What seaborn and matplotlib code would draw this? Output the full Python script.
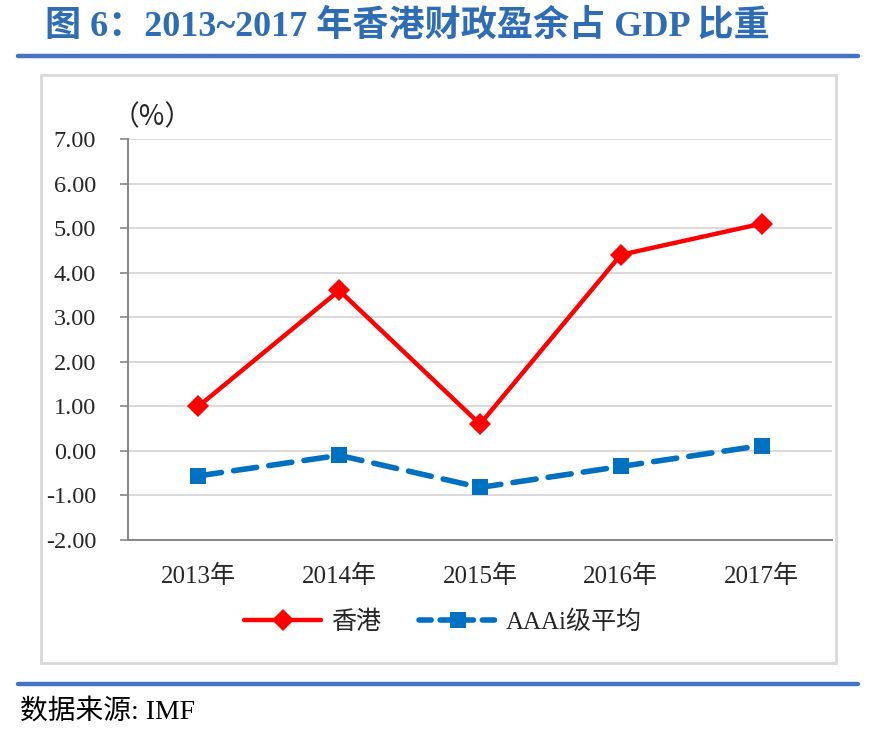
import matplotlib
matplotlib.use("Agg")
import matplotlib.pyplot as plt
import seaborn as sns
import pandas as pd
from matplotlib.patches import Rectangle
from matplotlib.lines import Line2D

years = ["2013年", "2014年", "2015年", "2016年", "2017年"]
hk = [1.0, 3.6, 0.6, 4.4, 5.1]
aaa = [-0.56, -0.1, -0.82, -0.35, 0.12]
series_names = ["香港", "AAAi级平均"]
yticks = [-2, -1, 0, 1, 2, 3, 4, 5, 6, 7]

sns.set_theme(style="white")
FONTS = ["Liberation Serif", "Noto Sans CJK SC", "DejaVu Sans"]
plt.rcParams["font.family"] = FONTS

W, H = 876, 733
fig = plt.figure(figsize=(W / 100, H / 100), dpi=100)

def fx(px):
    return px / W

def fy(py):
    return 1 - py / H

# outer chart box
fig.patches.append(Rectangle((fx(41), fy(663)), fx(836) - fx(41), fy(75) - fy(663),
                             transform=fig.transFigure, fill=False,
                             edgecolor="#D9D9D9", linewidth=2.0, zorder=0))
# blue rules
fig.add_artist(Line2D([fx(18), fx(858)], [fy(55.5), fy(55.5)], transform=fig.transFigure,
                      color="#4472C4", linewidth=3.2))
fig.add_artist(Line2D([fx(18), fx(858)], [fy(683.5), fy(683.5)], transform=fig.transFigure,
                      color="#4472C4", linewidth=3.2))

ax = fig.add_axes([fx(128), fy(540), fx(832) - fx(128), fy(139) - fy(540)])

df = pd.DataFrame({
    "x": list(range(len(years))) * 2,
    "val": hk + aaa,
    "series": [series_names[0]] * len(years) + [series_names[1]] * len(years),
})

sns.lineplot(data=df[df.series == series_names[0]], x="x", y="val", ax=ax,
             color="#FF0000", linewidth=3.2, marker="D", markersize=11,
             markeredgewidth=0, legend=False, zorder=4)
sns.lineplot(data=df[df.series == series_names[1]], x="x", y="val", ax=ax,
             color="#0070C0", linewidth=4.0, marker="s", markersize=11,
             markeredgewidth=0, legend=False, zorder=3)
l_hk, l_aaa = ax.get_lines()[0], ax.get_lines()[1]
l_aaa.set_linestyle((0, (4.2, 2.2)))
l_aaa.set_dash_capstyle("round")

ax.set_xlim(-0.5, len(years) - 0.5)
ax.set_ylim(-2, 7)
ax.set_yticks(yticks)
ax.set_yticklabels([f"{v:.2f}" for v in yticks], fontsize=17.5, family=FONTS)
ax.set_xticks(range(len(years)))
ax.set_xticklabels(years, fontsize=18, family=FONTS)
ax.set_xticks([i - 0.5 for i in range(len(years) + 1)], minor=True)
ax.tick_params(axis="x", which="major", length=0, pad=18)
ax.tick_params(axis="x", which="minor", length=6, width=1.2, color="#868686", direction="out")
ax.tick_params(axis="y", which="major", length=6, width=1.2, color="#868686",
               direction="out", pad=17, left=True)
ax.yaxis.grid(True, color="#D9D9D9", linewidth=1.4)
ax.set_axisbelow(True)
for s in ["top", "right"]:
    ax.spines[s].set_visible(False)
for s in ["left", "bottom"]:
    ax.spines[s].set_color("#868686")
    ax.spines[s].set_linewidth(1.4)
ax.set_xlabel("")
ax.set_ylabel("")

# unit label
fig.text(fx(112), fy(117), "（%）", fontsize=20, family=["Noto Sans CJK SC", "DejaVu Sans"],
         va="center", ha="left")

# legend
h1 = Line2D([], [], color="#FF0000", linewidth=3.2, marker="D", markersize=11, markeredgewidth=0)
h2 = Line2D([], [], color="#0070C0", linewidth=4.0, marker="s", markersize=11,
            markeredgewidth=0, linestyle=(0, (2.2, 1.6)), dash_capstyle="round")
fig.legend([h1, h2], series_names, loc="center", bbox_to_anchor=(fx(443), fy(622)),
           ncol=2, frameon=False, prop={"family": FONTS, "size": 18},
           handlelength=3.1, handletextpad=0.4, columnspacing=1.5)

# title
fig.text(fx(45), fy(26), "图 6：2013~2017 年香港财政盈余占 GDP 比重", fontsize=26,
         fontweight="bold", color="#2E6DB4", family=FONTS, va="center", ha="left")
# source
fig.text(fx(20), fy(712), "数据来源: IMF", fontsize=20, family=FONTS, va="center", ha="left",
         color="black")

fig.savefig("out.png", dpi=100, facecolor="white")
